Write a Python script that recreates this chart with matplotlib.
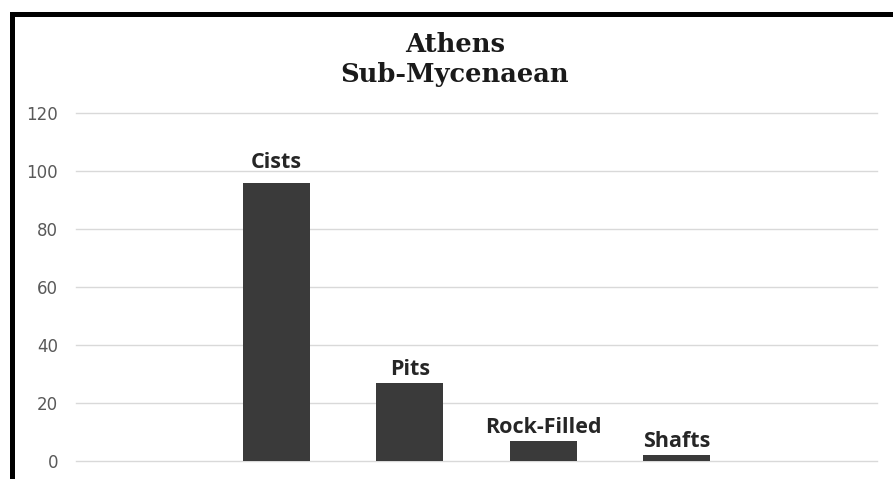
import matplotlib
matplotlib.use("Agg")
import matplotlib.pyplot as plt
from matplotlib.patches import Rectangle


categories = ["Cists", "Pits", "Rock-Filled", "Shafts"]
counts = [96, 27, 7, 2]
y_ticks = [0, 20, 40, 60, 80, 100, 120]

title_lines = ["Athens", "Sub-Mycenaean"]

W, H = 893, 479
DPI = 100

fig = plt.figure(figsize=(W / DPI, H / DPI), dpi=DPI)
fig.patch.set_facecolor("white")

# plot area in pixels: x 76..877, y 113..461 (from top)
ax = fig.add_axes([76 / W, (H - 461) / H, 801 / W, 348 / H])

x = list(range(len(categories)))
bars = ax.bar(x, counts, width=0.5, color="#3a3a3a", zorder=3)

ax.set_xlim(-1.5, len(categories) + 0.5)
ax.set_ylim(0, 120)
ax.set_yticks(y_ticks)
ax.set_xticks([])
ax.yaxis.grid(True, color="#d9d9d9", linewidth=1.0, zorder=0)
for gl in ax.get_ygridlines():
    gl.set_clip_on(False)
for s in ax.spines.values():
    s.set_visible(False)
ax.tick_params(axis="y", length=0, pad=13, labelsize=12, labelcolor="#595959")
for lbl in ax.get_yticklabels():
    lbl.set_fontfamily("DejaVu Sans")

# labels above bars, gap in pixels between bar top and text baseline
gaps = {"Cists": 15}
for xi, (name, val) in enumerate(zip(categories, counts)):
    gap = gaps.get(name, 8)
    ax.annotate(name, (xi, val), xytext=(0, gap * 72 / DPI),
                textcoords="offset points", ha="center", va="baseline",
                fontsize=15.5, fontweight="bold", family="Open Sans", color="#262626")

# two-line title
for line, base in zip(title_lines, [52, 82]):
    fig.text(455 / W, 1 - base / H, line, ha="center", va="baseline",
             fontsize=18.5, fontweight="bold", family="DejaVu Serif", color="#1a1a1a")

# black frame on top and left
fig.add_artist(Rectangle((10 / W, 1 - 17 / H), (W - 10) / W, 5 / H,
                         transform=fig.transFigure, color="black", lw=0))
fig.add_artist(Rectangle((10 / W, 0), 5 / W, 1 - 12 / H,
                         transform=fig.transFigure, color="black", lw=0))

fig.savefig("out.png", dpi=DPI)
